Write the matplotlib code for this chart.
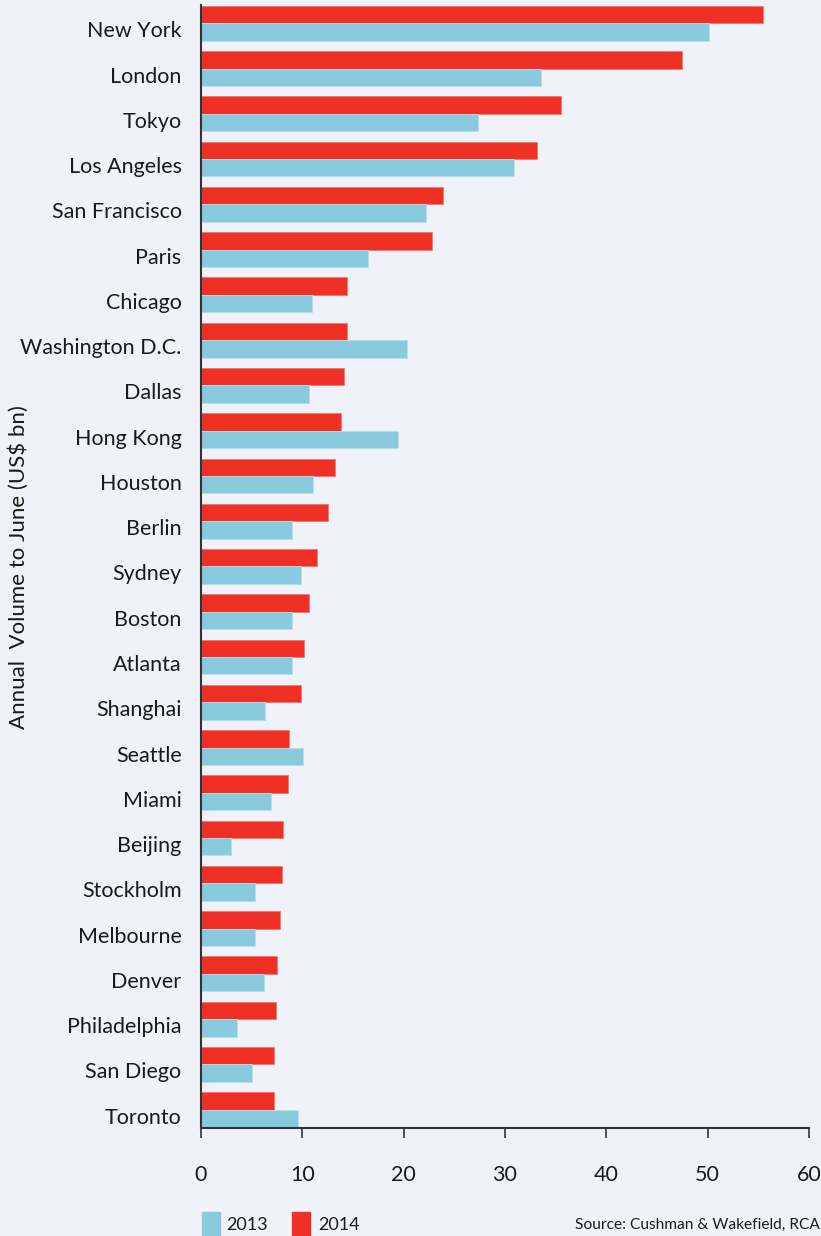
import numpy as np
import matplotlib; matplotlib.use("Agg")
import matplotlib.pyplot as plt
from matplotlib.patches import Rectangle
from matplotlib.transforms import ScaledTranslation

cities = ["New York","London","Tokyo","Los Angeles","San Francisco","Paris","Chicago",
          "Washington D.C.","Dallas","Hong Kong","Houston","Berlin","Sydney","Boston",
          "Atlanta","Shanghai","Seattle","Miami","Beijing","Stockholm","Melbourne",
          "Denver","Philadelphia","San Diego","Toronto"]
vol_2014 = [55.5,47.5,35.5,33.2,23.9,22.8,14.4,14.4,14.1,13.8,13.2,12.5,11.4,10.7,
            10.2,9.9,8.7,8.6,8.1,8.0,7.8,7.5,7.4,7.2,7.2]
vol_2013 = [50.1,33.6,27.3,30.9,22.2,16.5,11.0,20.3,10.7,19.4,11.1,9.0,9.9,9.0,
            9.0,6.3,10.1,6.9,3.0,5.3,5.3,6.2,3.6,5.0,9.6]
xticks = [0,10,20,30,40,50,60]

BG="#eff3f9"; RED="#ee3124"; BLUE="#89cade"; TXT="#1a1a1a"
plt.rcParams['font.family'] = ['Lato','DejaVu Sans']

fig=plt.figure(figsize=(8.21,12.36),dpi=100,facecolor=BG)
ax=fig.add_axes([0.2448,0.0874,0.7406,0.9086],facecolor=BG)
y=np.arange(len(cities)); h=0.385
ax.barh(y-h/2,vol_2014,height=h,color=RED,edgecolor="#f07a72",lw=0.6)
ax.barh(y+h/2,vol_2013,height=h,color=BLUE,edgecolor="#b5dfec",lw=0.6)
ax.set_ylim(len(cities)-1+h+0.02,-h-0.02)
ax.set_xlim(0,60)
ax.set_yticks(y); ax.set_yticklabels(cities,fontsize=15.5,color=TXT)
ax.tick_params(axis="y",length=0,pad=14)
# labels sit a little below the pair centre in the original
shift=ScaledTranslation(0,-6/100,fig.dpi_scale_trans)
for lab in ax.get_yticklabels(): lab.set_transform(lab.get_transform()+shift)
ax.set_xticks(xticks); ax.set_xticklabels([str(t) for t in xticks],fontsize=15.5,color=TXT)
ax.tick_params(axis="x",length=7,width=1.2,color="#333333",direction="out",pad=20)
for s in ["top","right"]: ax.spines[s].set_visible(False)
for s in ["left","bottom"]:
    ax.spines[s].set_color("#333333"); ax.spines[s].set_linewidth(1.5)
fig.text(0.022,0.541,"Annual  Volume to June (US$ bn)",rotation=90,ha="center",va="center",fontsize=16,color=TXT)

# legend at bottom
fig.patches.append(Rectangle((202/821,0.0),18/821,24/1236,transform=fig.transFigure,color=BLUE))
fig.text(226/821,0.009,"2013",fontsize=13,color=TXT,va="center")
fig.patches.append(Rectangle((292/821,0.0),18/821,24/1236,transform=fig.transFigure,color=RED))
fig.text(318/821,0.009,"2014",fontsize=13,color=TXT,va="center")
fig.text(0.999,0.009,"Source: Cushman & Wakefield, RCA",fontsize=11.2,color=TXT,ha="right",va="center")
fig.savefig("out.png",dpi=100,facecolor=BG)
